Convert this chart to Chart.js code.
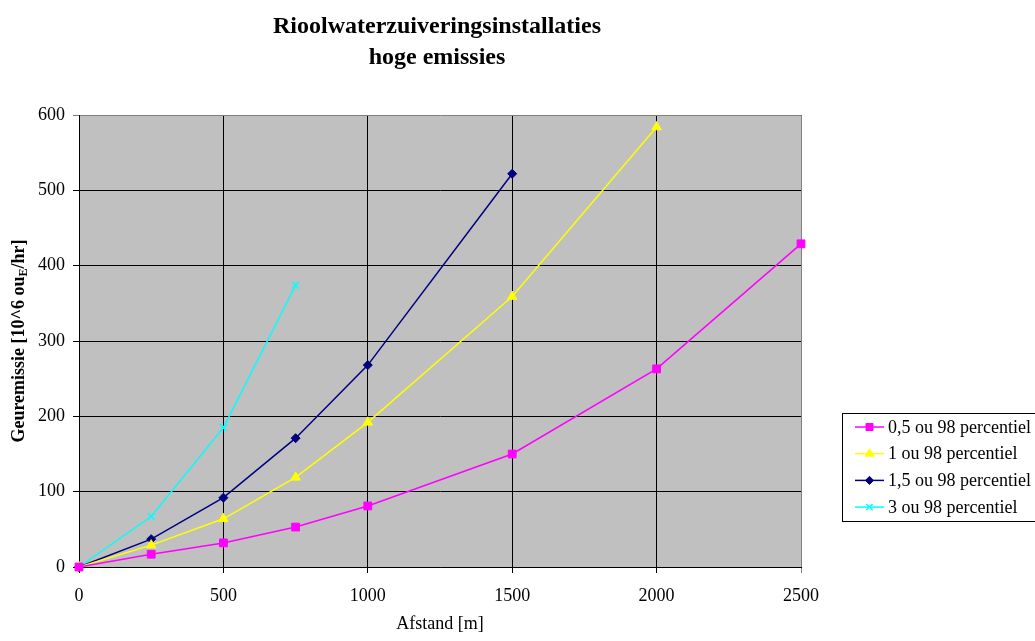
<!DOCTYPE html>
<html>
<head>
<meta charset="utf-8">
<script src="https://cdn.jsdelivr.net/npm/chart.js@4/dist/chart.umd.min.js"></script>
<style>
  html, body { margin: 0; padding: 0; background: #ffffff; }
  canvas { display: block; }
</style>
</head>
<body>
<canvas id="c" width="1035" height="641"></canvas>
<script>
// Afstand (m) and geuremissie (10^6 ou_E/hr) per percentiel-contour
const afstand = [0, 250, 500, 750, 1000, 1500, 2000, 2500];
const p05 = [0, 17, 32, 53, 81, 150, 263, 429];
const p1  = [0, 29, 64, 119, 192, 359, 584];
const p15 = [0, 37, 92, 171, 268, 522];
const p3  = [0, 67, 185, 374];

const seriesNames = ['0,5 ou 98 percentiel', '1 ou 98 percentiel', '1,5 ou 98 percentiel', '3 ou 98 percentiel'];
const titleLines = ['Rioolwaterzuiveringsinstallaties', 'hoge emissies'];
const xTitle = 'Afstand [m]';
const yTitleParts = ['Geuremissie [10^6 ou', 'E', '/hr]'];

const SERIF = '"Liberation Serif", "Times New Roman", serif';

function pts(vals) {
  return vals.map((v, i) => ({ x: afstand[i], y: v }));
}

const datasets = [
  { label: seriesNames[0], data: pts(p05), borderColor: '#FF00FF', backgroundColor: '#FF00FF',
    pointStyle: 'rect', pointRadius: 5.5, borderWidth: 1.5, pointBorderWidth: 1 },
  { label: seriesNames[1], data: pts(p1), borderColor: '#FFFF00', backgroundColor: '#FFFF00',
    pointStyle: 'triangle', pointRadius: 5.5, borderWidth: 1.5, pointBorderWidth: 1 },
  { label: seriesNames[2], data: pts(p15), borderColor: '#000080', backgroundColor: '#000080',
    pointStyle: 'rectRot', pointRadius: 4.5, borderWidth: 1.5, pointBorderWidth: 1 },
  { label: seriesNames[3], data: pts(p3), borderColor: '#00FFFF', backgroundColor: '#00FFFF',
    pointStyle: 'crossRot', pointRadius: 5, borderWidth: 1.5, pointBorderWidth: 1.5 }
];

// Grey plot background, titles, axis titles and the boxed legend
const decor = {
  id: 'decor',
  beforeDraw(chart) {
    const { ctx, chartArea: a } = chart;
    ctx.save();
    ctx.fillStyle = '#C0C0C0';
    ctx.fillRect(a.left, a.top, a.right - a.left, a.bottom - a.top);
    ctx.restore();
  },
  afterDraw(chart) {
    const { ctx, chartArea: a } = chart;
    ctx.save();
    // chart title
    ctx.fillStyle = '#000';
    ctx.textAlign = 'center';
    ctx.textBaseline = 'alphabetic';
    ctx.font = 'bold 24px ' + SERIF;
    ctx.fillText(titleLines[0], 437, 33);
    ctx.fillText(titleLines[1], 437, 64);

    // x axis title
    ctx.font = '18px ' + SERIF;
    ctx.textBaseline = 'middle';
    ctx.fillText(xTitle, (a.left + a.right) / 2, 624);

    // y axis title with subscript E
    ctx.translate(18, (a.top + a.bottom) / 2);
    ctx.rotate(-Math.PI / 2);
    const big = 'bold 18px ' + SERIF, small = 'bold 12px ' + SERIF;
    ctx.font = big; const w0 = ctx.measureText(yTitleParts[0]).width, w2 = ctx.measureText(yTitleParts[2]).width;
    ctx.font = small; const w1 = ctx.measureText(yTitleParts[1]).width;
    let x = -(w0 + w1 + w2) / 2;
    ctx.textAlign = 'left';
    ctx.textBaseline = 'alphabetic';
    ctx.font = big; ctx.fillText(yTitleParts[0], x, 6); x += w0;
    ctx.font = small; ctx.fillText(yTitleParts[1], x, 9); x += w1;
    ctx.font = big; ctx.fillText(yTitleParts[2], x, 6);
    ctx.setTransform(1, 0, 0, 1, 0, 0);

    // legend box (runs off the right edge of the canvas)
    const bx = 842, by = 413, bw = 210, bh = 108;
    ctx.fillStyle = '#fff';
    ctx.fillRect(bx, by, bw, bh);
    ctx.strokeStyle = '#000';
    ctx.lineWidth = 1;
    ctx.strokeRect(bx + 0.5, by + 0.5, bw, bh);
    chart.data.datasets.forEach((ds, i) => {
      const cy = 427 + i * 26.7;
      ctx.strokeStyle = ds.borderColor;
      ctx.lineWidth = 1.5;
      ctx.beginPath();
      ctx.moveTo(855, cy); ctx.lineTo(884, cy);
      ctx.stroke();
      ctx.fillStyle = ds.backgroundColor;
      ctx.strokeStyle = ds.borderColor;
      ctx.lineWidth = ds.pointBorderWidth;
      Chart.helpers.drawPoint(ctx, { pointStyle: ds.pointStyle, radius: ds.pointRadius * 0.9, borderWidth: ds.pointBorderWidth, rotation: 0 }, 869.5, cy);
      ctx.fillStyle = '#000';
      ctx.font = '18px ' + SERIF;
      ctx.textAlign = 'left';
      ctx.textBaseline = 'middle';
      ctx.fillText(ds.label, 888, cy + 1);
    });
    ctx.restore();
  }
};

new Chart(document.getElementById('c'), {
  type: 'scatter',
  data: { datasets: datasets.map(d => Object.assign({ showLine: true, fill: false, tension: 0, clip: false }, d)) },
  options: {
    responsive: false,
    devicePixelRatio: 1,
    animation: false,
    layout: { padding: { top: 115, right: 234, left: 0, bottom: 0 } },
    plugins: { legend: { display: false }, title: { display: false }, tooltip: { enabled: false } },
    scales: {
      x: {
        type: 'linear', min: 0, max: 2500,
        ticks: { stepSize: 500, color: '#000', padding: 12, font: { family: SERIF, size: 18 },
                 callback: (v) => String(v) },
        grid: {
          color: (c) => (c.tick && c.tick.value === 2500) ? '#808080' : '#000',
          lineWidth: 1, tickLength: 6, drawTicks: true
        },
        border: { color: '#000', width: 1 },
        afterFit(s) { s.height = 74; }
      },
      y: {
        type: 'linear', min: 0, max: 600,
        ticks: { stepSize: 100, color: '#000', padding: 8, font: { family: SERIF, size: 18 },
                 callback: (v) => String(v) },
        grid: {
          color: (c) => (c.tick && c.tick.value === 600) ? '#808080' : '#000',
          lineWidth: 1, tickLength: 6, drawTicks: true
        },
        border: { color: '#000', width: 1 },
        afterFit(s) { s.width = 79; }
      }
    }
  },
  plugins: [decor]
});
</script>
</body>
</html>
